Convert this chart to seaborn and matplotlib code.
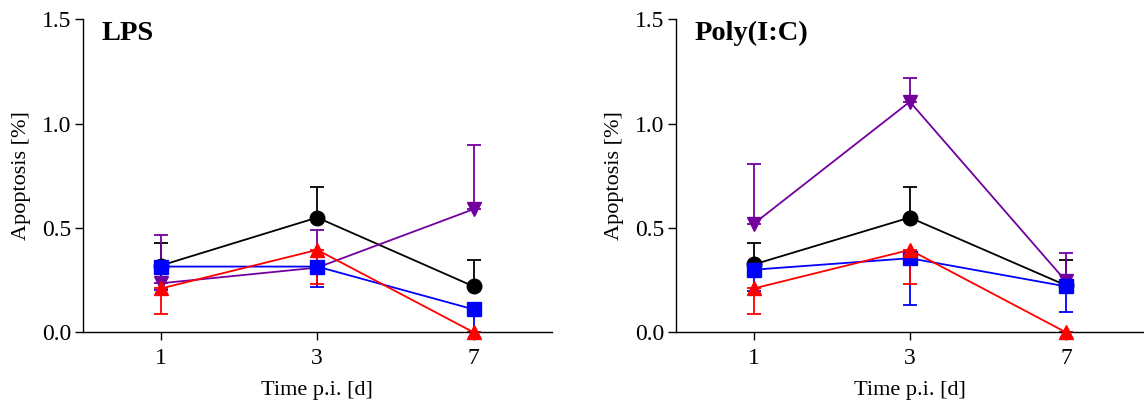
import numpy as np
import pandas as pd
import matplotlib
matplotlib.use("Agg")
import matplotlib.pyplot as plt
import seaborn as sns

# ---------------- data ----------------
days = ["1", "3", "7"]
groups = ["G1", "G2", "G3", "G4"]

# LPS panel
lps_black = [0.32, 0.55, 0.22]
lps_black_err = [0.11, 0.145, 0.125]
lps_blue = [0.315, 0.315, 0.11]
lps_blue_err = [0.11, 0.10, 0.11]
lps_red = [0.21, 0.395, 0.0]
lps_red_err = [0.12, 0.165, 0.0]
lps_purple = [0.235, 0.31, 0.59]
lps_purple_err = [0.23, 0.18, 0.31]

# Poly(I:C) panel
pic_black = [0.325, 0.55, 0.225]
pic_black_err = [0.105, 0.145, 0.12]
pic_blue = [0.30, 0.355, 0.22]
pic_blue_err = [0.10, 0.225, 0.125]
pic_red = [0.21, 0.395, 0.0]
pic_red_err = [0.12, 0.165, 0.0]
pic_purple = [0.52, 1.105, 0.245]
pic_purple_err = [0.285, 0.115, 0.135]

panel_titles = ["LPS", "Poly(I:C)"]
yticks = [0.0, 0.5, 1.0, 1.5]
ylabel = "Apoptosis [%]"
xlabel = "Time p.i. [d]"

# ---------------- style ----------------
colors = {"G1": "#000000", "G2": "#0000FF", "G3": "#FF0000", "G4": "#72009E"}
markers = {"G1": "o", "G2": "s", "G3": "^", "G4": "v"}
direction = {"G1": "up", "G2": "down", "G3": "down", "G4": "up"}
draw_order = ["G1", "G4", "G2", "G3"]

sns.set_theme(style="ticks")
plt.rcParams["font.family"] = ["Liberation Serif", "DejaVu Serif"]

def build(vals, errs):
    rows = []
    for g in groups:
        for d, v, e in zip(days, vals[g], errs[g]):
            rows.append({"day": d, "value": v, "err": e, "group": g})
    return pd.DataFrame(rows)

panels = [
    build({"G1": lps_black, "G2": lps_blue, "G3": lps_red, "G4": lps_purple},
          {"G1": lps_black_err, "G2": lps_blue_err, "G3": lps_red_err, "G4": lps_purple_err}),
    build({"G1": pic_black, "G2": pic_blue, "G3": pic_red, "G4": pic_purple},
          {"G1": pic_black_err, "G2": pic_blue_err, "G3": pic_red_err, "G4": pic_purple_err}),
]

fig = plt.figure(figsize=(11.44, 4.05), dpi=100)
axes = [fig.add_axes([0.0723, 0.1795, 0.410, 0.7728]),
        fig.add_axes([0.5906, 0.1795, 0.4094, 0.7728])]

for ax, df, title in zip(axes, panels, panel_titles):
    for g in draw_order:
        sub = df[df["group"] == g]
        pos = np.arange(len(days))
        yv = sub["value"].to_numpy()
        ev = sub["err"].to_numpy()
        zero = np.zeros_like(ev)
        yerr = [zero, ev] if direction[g] == "up" else [ev, zero]
        ax.errorbar(pos, yv, yerr=yerr, fmt="none", ecolor=colors[g],
                    elinewidth=1.3, capsize=4.8, capthick=1.3, zorder=2)
        sns.pointplot(data=sub, x="day", y="value", order=days, color=colors[g],
                      marker=markers[g], markersize=10.5, linewidth=1.3,
                      errorbar=None, ax=ax, zorder=3)
    for ln in ax.lines:
        ln.set_clip_on(False)
    for coll in ax.collections:
        coll.set_clip_on(False)

    ax.set_xlim(-0.5, 2.5)
    ax.set_ylim(0, 1.5)
    ax.set_yticks(yticks)
    ax.set_yticklabels([f"{t:.1f}" for t in yticks])
    ax.set_xticks(range(len(days)))
    ax.set_xticklabels(days)
    ax.tick_params(axis="both", labelsize=17, length=6, width=1, color="black",
                   labelcolor="black", direction="out", pad=2)
    ax.tick_params(axis="x", pad=5)
    ax.set_xlabel(xlabel, fontsize=16, color="black", labelpad=9)
    ax.set_ylabel(ylabel, fontsize=16, color="black", labelpad=8)
    for s in ["top", "right"]:
        ax.spines[s].set_visible(False)
    for s in ["left", "bottom"]:
        ax.spines[s].set_color("black")
        ax.spines[s].set_linewidth(1)
    ax.text(0.04, 0.935, title, transform=ax.transAxes, fontsize=20.5,
            fontweight="bold", ha="left", va="baseline", color="black")
    ax.grid(False)

fig.savefig("out.png", dpi=100)
